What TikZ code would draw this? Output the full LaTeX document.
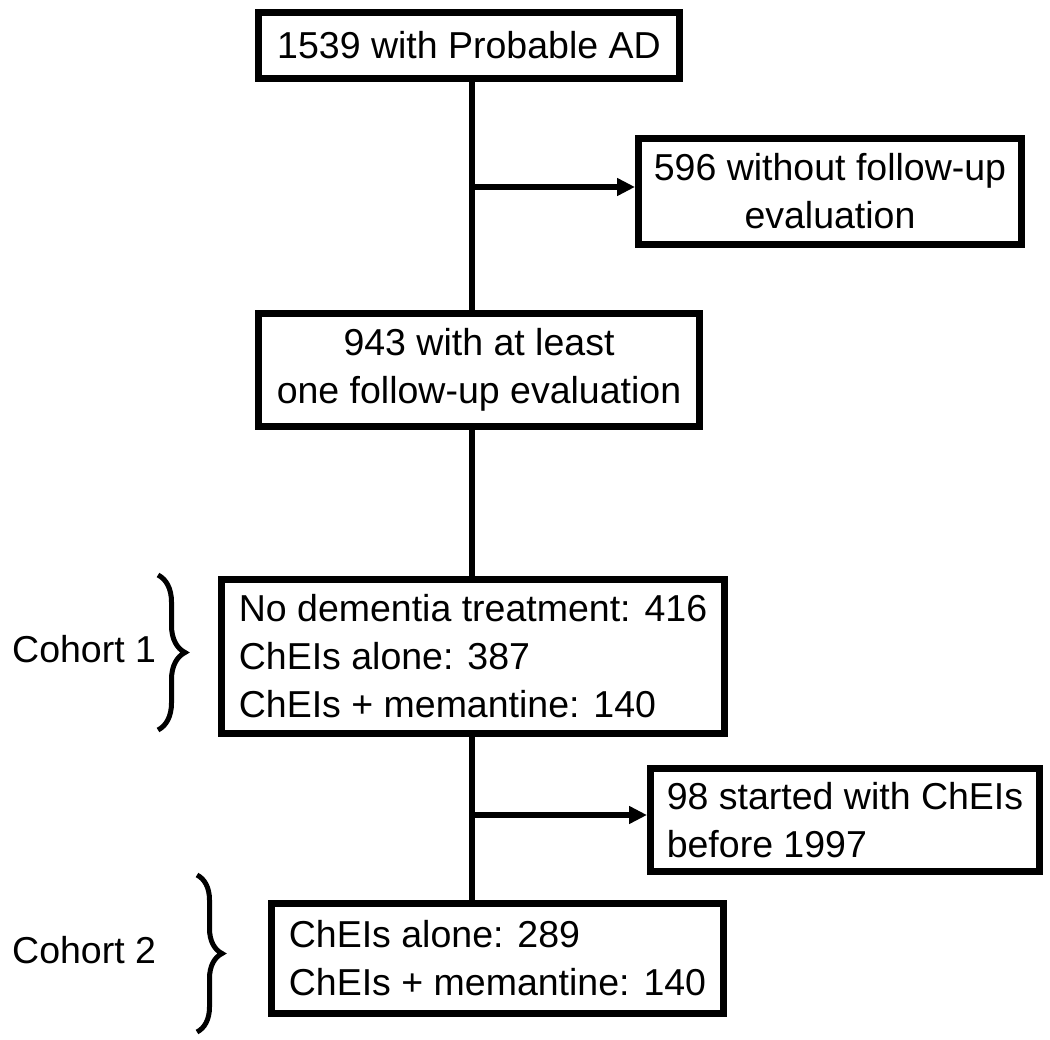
\documentclass[tikz,border=0pt]{standalone}
\usepackage{fontspec}
\setmainfont{Liberation Sans}
\usetikzlibrary{arrows.meta,decorations.pathreplacing}
\begin{document}
\begin{tikzpicture}[x=1pt,y=-1pt,
  txt/.style={font=\fontsize{37.5}{48}\selectfont},
  box/.style={draw, line width=7pt, inner sep=0pt, txt},
  link/.style={line width=5.5pt},
  arr/.style={link, -{Triangle[length=18pt,width=17pt]}},
  curly/.style={decorate, line width=5pt, decoration={brace, amplitude=#1}},
  lab/.style={anchor=west, inner sep=0pt, txt}]
\useasboundingbox (0,0) rectangle (1050,1040);
\node[box, minimum width=421pt, minimum height=66pt] (b1) at (469,45.5) {1539 with Probable AD};
\node[box, minimum width=383pt, minimum height=106pt, align=center] (b2) at (830,191.5) {596 without follow-up\\evaluation};
\node[box, minimum width=441pt, minimum height=113pt, align=center] (b3) at (479,370) {943 with at least\\one follow-up evaluation};
\node[box, minimum width=503pt, minimum height=154pt, align=left] (b4) at (473,656.5) {No dementia treatment: 416\\ChEIs alone: 387\\ChEIs + memantine: 140};
\node[box, minimum width=389pt, minimum height=103pt, align=left] (b5) at (845,820) {98 started with ChEIs\\before 1997};
\node[box, minimum width=452pt, minimum height=110pt, align=left] (b6) at (497.5,958.5) {ChEIs alone: 289\\ChEIs + memantine: 140};
\coordinate (t) at (472,0);
\draw[link] (t |- b1.south) -- (t |- b3.north);
\draw[link] (t |- b3.south) -- (t |- b4.north);
\draw[link] (t |- b4.south) -- (t |- b6.north);
\coordinate (j1) at (472,187);
\draw[arr] (j1) -- (j1 -| b2.west);
\coordinate (j2) at (472,815);
\draw[arr] (j2) -- (j2 -| b5.west);
\coordinate (k1a) at (158,575);
\coordinate (k1b) at (158,730);
\draw[curly=27pt] (k1a) -- (k1b);
\coordinate (k2a) at (197,875);
\coordinate (k2b) at (197,1032);
\draw[curly=25pt] (k2a) -- (k2b);
\node[lab] (c1) at (12,649) {Cohort 1};
\node[lab] (c2) at (12,950) {Cohort 2};
\end{tikzpicture}
\end{document}
